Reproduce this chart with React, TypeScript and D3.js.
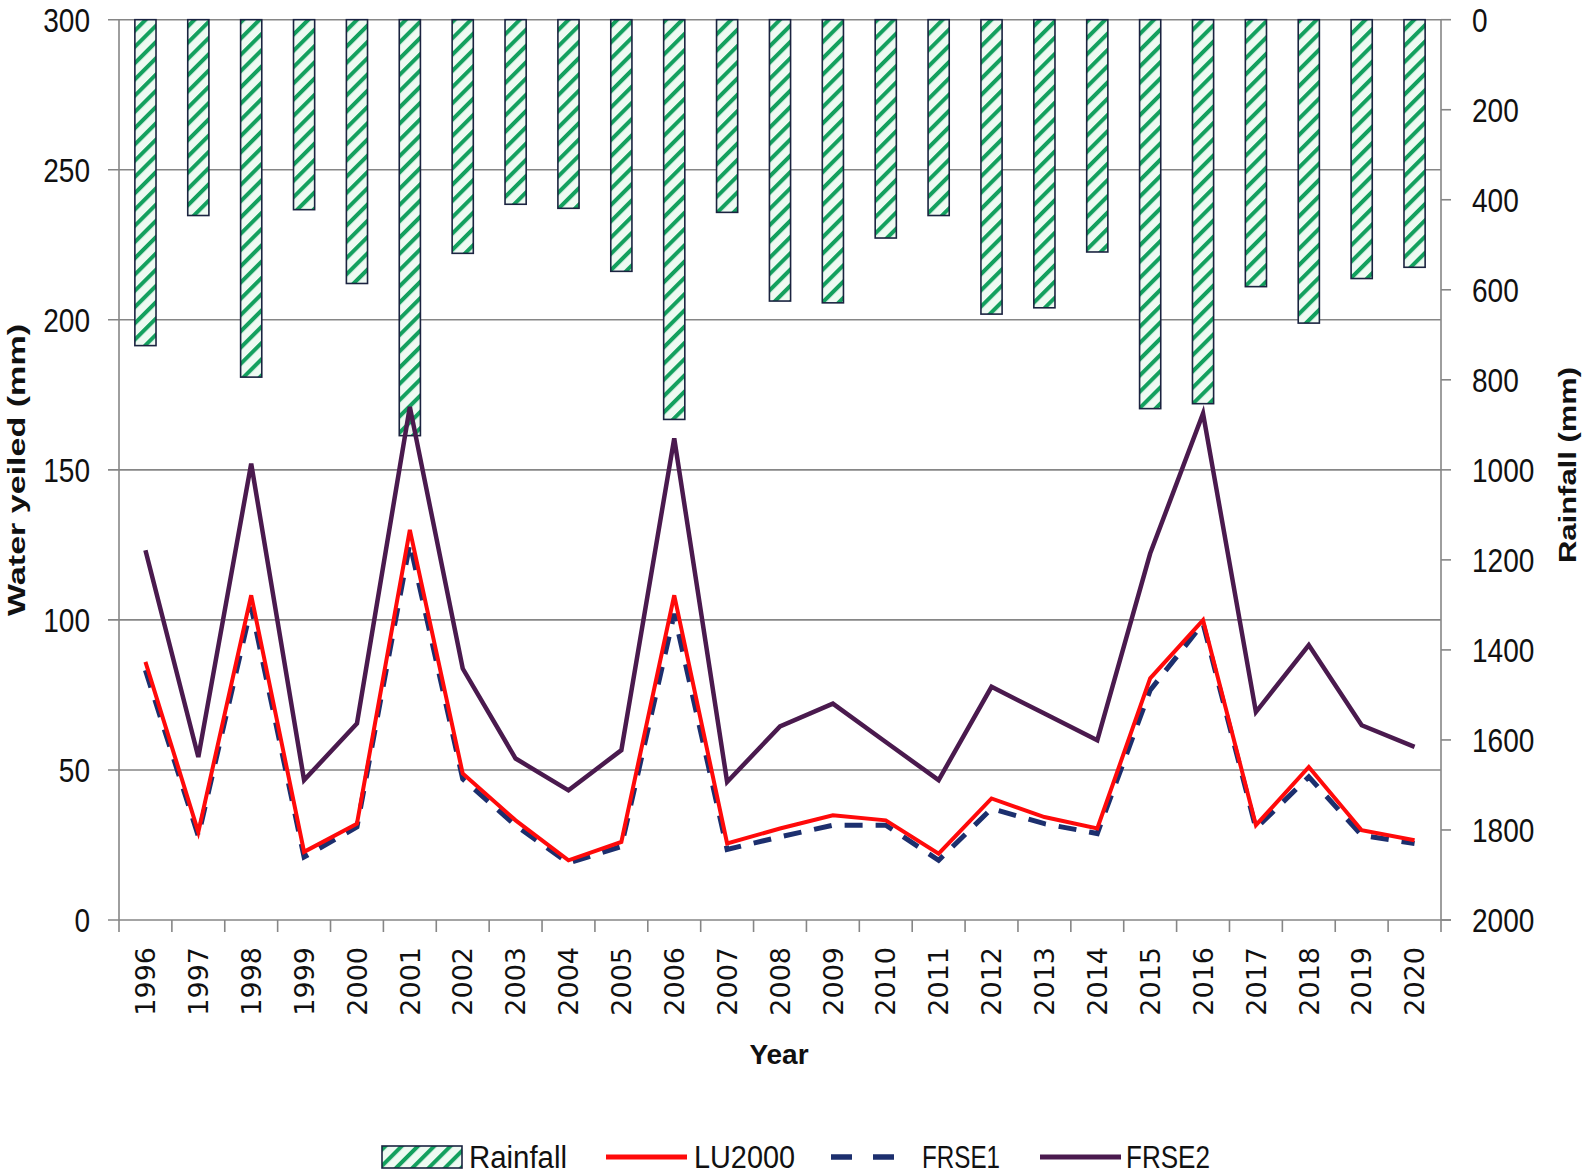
import React from "react";
import * as d3 from "d3";

const years = ["1996","1997","1998","1999","2000","2001","2002","2003","2004","2005","2006","2007","2008","2009","2010","2011","2012","2013","2014","2015","2016","2017","2018","2019","2020"];
const rainfall = [724, 435, 794, 422, 586, 924, 519, 410, 419, 559, 888, 428, 625, 629, 485, 435, 654, 640, 516, 864, 853, 593, 674, 575, 550];
const lu2000 = [86, 29.3, 108.2, 22.7, 32.1, 130, 48.8, 33.2, 19.9, 26, 108.2, 25.5, 30.5, 34.9, 33.2, 22.1, 40.5, 34.3, 30.5, 80.5, 99.9, 31.6, 51, 29.9, 26.6];
const frse1 = [83.2, 28, 104.3, 21, 31, 125.5, 47, 31.5, 19, 24.5, 102, 23.5, 27.7, 31.6, 31.6, 19.9, 37.1, 32.1, 28.8, 76.6, 98.8, 30.5, 47.7, 28.2, 25.5];
const frse2 = [123.2, 54.3, 152.1, 46.6, 65.5, 171, 83.8, 53.8, 43.2, 56.6, 160.5, 46, 64.5, 72.1, 59.3, 46.6, 77.7, 68.8, 59.9, 122.1, 168.8, 69.3, 91.6, 64.9, 57.7];
const leftTicks = [0, 50, 100, 150, 200, 250, 300];
const rightTicks = [0, 200, 400, 600, 800, 1000, 1200, 1400, 1600, 1800, 2000];

const W = 1593, H = 1176;
const L = 119, R = 1441, T = 19.7, B = 920;
const GRID = "#868686";
const SANS = "'Liberation Sans', Arial, sans-serif";
const DIGIT = 15.6;

export default function App() {
  const x = d3.scaleBand<string>().domain(years).range([L, R]).padding(0);
  const bw = x.bandwidth();
  const cx = (i: number) => (x(years[i]) as number) + bw / 2;
  const yL = d3.scaleLinear().domain([0, 300]).range([B, T]);
  const yR = d3.scaleLinear().domain([0, 2000]).range([T, B]);
  const line = d3.line<number>().x((_, i) => cx(i)).y((d) => yL(d));
  const barW = bw * 0.4;

  return (
    <svg width={W} height={H} style={{ position: "absolute", left: 0, top: 0, background: "#fff" }}>
      <defs>
        <pattern id="hatch" patternUnits="userSpaceOnUse" width={11.5} height={11.5} patternTransform="rotate(45)">
          <rect x={0} y={0} width={11.5} height={11.5} fill="#eefaf2" />
          <rect x={0} y={0} width={4} height={11.5} fill="#13a05e" />
        </pattern>
      </defs>

      {/* gridlines */}
      {leftTicks.filter((t) => t > 0).map((t) => (
        <line key={"g" + t} x1={L - 11} x2={R} y1={yL(t)} y2={yL(t)} stroke={GRID} strokeWidth={1.6} />
      ))}

      {/* bars */}
      {rainfall.map((v, i) => (
        <rect key={"b" + i} x={cx(i) - barW / 2} y={yR(0)} width={barW} height={yR(v) - yR(0)}
          fill="url(#hatch)" stroke="#1b2340" strokeWidth={1.6} />
      ))}

      {/* axes */}
      <line x1={L} x2={L} y1={T} y2={B} stroke={GRID} strokeWidth={1.6} />
      <line x1={R} x2={R} y1={T} y2={B} stroke={GRID} strokeWidth={1.6} />
      <line x1={L - 11} x2={R + 10} y1={B} y2={B} stroke={GRID} strokeWidth={1.6} />
      {d3.range(years.length + 1).map((i) => (
        <line key={"xt" + i} x1={L + i * bw} x2={L + i * bw} y1={B} y2={B + 12} stroke={GRID} strokeWidth={1.6} />
      ))}
      {rightTicks.map((t) => (
        <line key={"rt" + t} x1={R} x2={R + 10} y1={yR(t)} y2={yR(t)} stroke={GRID} strokeWidth={1.6} />
      ))}

      {/* left tick labels */}
      {leftTicks.map((t) => (
        <text key={"lt" + t} x={90} y={yL(t)} dy="0.36em" textAnchor="end" fontFamily={SANS} fontSize={33}
          textLength={String(t).length * DIGIT} lengthAdjust="spacingAndGlyphs" fill="#111">{t}</text>
      ))}
      {/* right tick labels */}
      {rightTicks.map((t) => (
        <text key={"rl" + t} x={1472} y={yR(t)} dy="0.36em" textAnchor="start" fontFamily={SANS} fontSize={33}
          textLength={String(t).length * DIGIT} lengthAdjust="spacingAndGlyphs" fill="#111">{t}</text>
      ))}
      {/* year labels */}
      {years.map((yv, i) => (
        <text key={"yl" + yv} transform={`translate(${cx(i)},947) rotate(-90)`} dy="0.36em" textAnchor="end"
          fontFamily="'DejaVu Sans', Verdana, sans-serif" fontSize={27} fill="#111">{yv}</text>
      ))}

      {/* lines */}
      <path d={line(frse2) || ""} fill="none" stroke="#4a1a4e" strokeWidth={4.5} />
      <path d={line(frse1) || ""} fill="none" stroke="#1c2f6e" strokeWidth={5} strokeDasharray="18 13" />
      <path d={line(lu2000) || ""} fill="none" stroke="#ff0a0a" strokeWidth={4} />

      {/* axis titles */}
      <text transform="translate(25,470) rotate(-90)" textAnchor="middle" fontFamily={SANS}
        fontWeight="bold" fontSize={24} textLength={292} lengthAdjust="spacingAndGlyphs" fill="#111">Water yeiled (mm)</text>
      <text transform="translate(1576,465) rotate(-90)" textAnchor="middle" fontFamily={SANS}
        fontWeight="bold" fontSize={24} textLength={196} lengthAdjust="spacingAndGlyphs" fill="#111">Rainfall (mm)</text>
      <text x={779} y={1064} textAnchor="middle" fontFamily={SANS}
        fontWeight="bold" fontSize={28} fill="#111">Year</text>

      {/* legend */}
      <rect x={382} y={1146} width={80} height={22} fill="url(#hatch)" stroke="#1b2340" strokeWidth={1.6} />
      <text x={469} y={1157} dy="0.36em" fontFamily={SANS} fontSize={31} textLength={98} lengthAdjust="spacingAndGlyphs" fill="#111">Rainfall</text>
      <line x1={606} x2={687} y1={1157} y2={1157} stroke="#ff0a0a" strokeWidth={5} />
      <text x={694} y={1157} dy="0.36em" fontFamily={SANS} fontSize={31} textLength={101} lengthAdjust="spacingAndGlyphs" fill="#111">LU2000</text>
      <line x1={831} x2={894} y1={1157} y2={1157} stroke="#1c2f6e" strokeWidth={5.5} strokeDasharray="21 21" />
      <text x={922} y={1157} dy="0.36em" fontFamily={SANS} fontSize={31} textLength={78} lengthAdjust="spacingAndGlyphs" fill="#111">FRSE1</text>
      <line x1={1040} x2={1121} y1={1157} y2={1157} stroke="#4a1a4e" strokeWidth={5} />
      <text x={1126} y={1157} dy="0.36em" fontFamily={SANS} fontSize={31} textLength={84} lengthAdjust="spacingAndGlyphs" fill="#111">FRSE2</text>
    </svg>
  );
}
